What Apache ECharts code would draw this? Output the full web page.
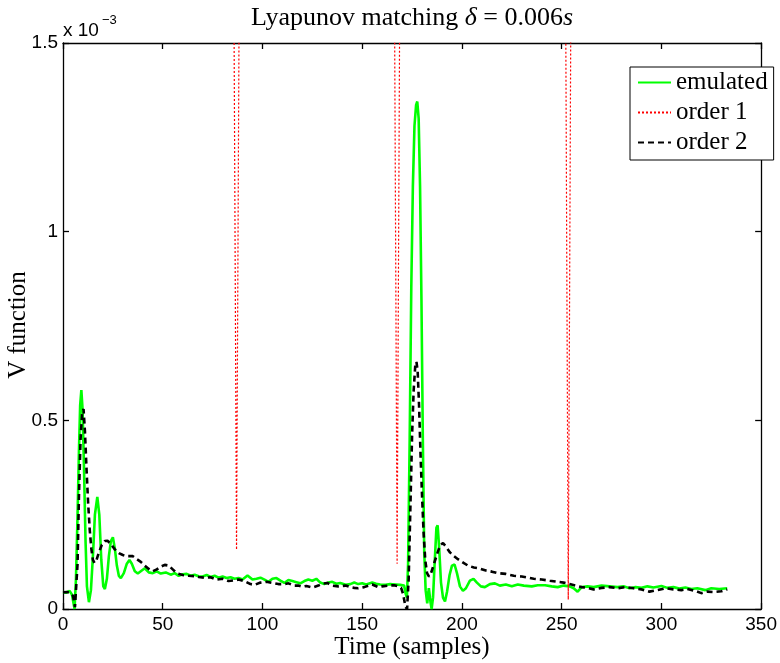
<!DOCTYPE html>
<html><head><meta charset="utf-8">
<script src="https://cdn.jsdelivr.net/npm/echarts@6/dist/echarts.min.js"></script>
<style>html,body{margin:0;padding:0;background:#fff;} #c{width:780px;height:663px;}</style>
</head><body><div id="c"></div>
<script>
// x ticks (samples) and y ticks (in units of 1e-3)
const xTickValues = [0, 50, 100, 150, 200, 250, 300, 350];
const yTickValues = [0, 0.5, 1, 1.5];
const seriesNames = ['emulated', 'order 1', 'order 2'];

// V function values, units of 1e-3
const emulated = [[0,0.045],[1.5,0.043],[3.3,0.048],[4.5,0.038],[5.8,0.0],[6.5,0.08],[7.3,0.25],[8,0.42],[8.6,0.54],[9.2,0.58],[9.8,0.53],[10.5,0.38],[11.3,0.18],[12,0.06],[13,0.018],[14,0.05],[15,0.14],[16,0.25],[17.2,0.297],[18.2,0.25],[19.2,0.13],[20.2,0.06],[21,0.053],[22,0.08],[23,0.14],[24,0.18],[25,0.19],[26,0.16],[27,0.115],[28,0.088],[29,0.082],[30.5,0.095],[32,0.12],[33.3,0.13],[34.5,0.12],[36,0.1],[37.5,0.094],[39,0.1],[41,0.108],[43,0.097],[45,0.095],[47,0.1],[49,0.094],[51.5,0.097],[54,0.091],[56,0.095],[58,0.088],[60,0.092],[62,0.093],[64,0.088],[66,0.091],[68,0.087],[70,0.086],[72,0.09],[74,0.085],[76,0.088],[78,0.083],[80,0.086],[82,0.082],[84,0.084],[86,0.08],[88,0.082],[90,0.078],[92.5,0.089],[95,0.078],[97,0.08],[99,0.083],[101,0.078],[103,0.072],[105,0.08],[107,0.082],[109,0.075],[111,0.069],[113,0.077],[115,0.074],[117,0.071],[119,0.068],[121,0.074],[123,0.078],[125,0.075],[127,0.08],[129,0.07],[131,0.066],[133,0.07],[135,0.072],[137,0.067],[139,0.069],[141.7,0.064],[144,0.066],[146,0.07],[148,0.066],[150,0.068],[152,0.065],[155,0.07],[157,0.067],[159,0.065],[161.7,0.064],[164,0.066],[166.7,0.065],[169,0.064],[171,0.062],[171.8,0.04],[172.4,0.03],[173,0.12],[173.8,0.45],[174.6,0.85],[175.4,1.12],[176.2,1.28],[177,1.335],[177.6,1.345],[178.3,1.3],[179,1.12],[179.7,0.82],[180.4,0.45],[181.1,0.15],[181.8,0.05],[182.6,0.015],[183.4,0.055],[184.2,0.02],[184.8,0.0],[185.5,0.03],[186.3,0.12],[187.2,0.215],[187.8,0.222],[188.6,0.16],[189.5,0.07],[190.5,0.03],[191.5,0.02],[192.5,0.045],[193.8,0.09],[195,0.115],[196.3,0.118],[197.5,0.095],[199,0.06],[200.5,0.048],[202,0.055],[204,0.075],[205.8,0.08],[207.5,0.07],[209.5,0.06],[211.5,0.058],[214,0.066],[216.5,0.068],[219,0.062],[222,0.065],[225,0.06],[228,0.065],[231,0.062],[235,0.06],[238,0.063],[241.7,0.063],[245,0.06],[248,0.058],[251,0.062],[254,0.06],[256,0.055],[258,0.046],[260,0.058],[263,0.06],[266,0.058],[270,0.062],[274,0.06],[278,0.058],[281,0.06],[284,0.055],[287,0.058],[290,0.056],[293,0.06],[296,0.057],[300,0.061],[303,0.056],[306,0.058],[309,0.054],[312,0.057],[315,0.053],[318,0.055],[322,0.05],[325,0.055],[329,0.053],[333,0.055]];

// order 1: far above the axis range except three narrow dips
const order1 = [[0,5],[85.7,1.6],[87,0.157],[88.3,1.6],[166.2,1.6],[167.5,0.12],[168.8,1.6],[252,1.6],[253.3,0.025],[254.6,1.6],[334,5]];

const order2 = [[0,0.044],[2,0.045],[3.5,0.043],[5,0.035],[6,0.005],[6.5,0.0],[7.3,0.12],[8,0.3],[8.8,0.45],[9.6,0.52],[10.3,0.53],[11,0.47],[11.8,0.37],[12.6,0.28],[13.4,0.21],[14.2,0.16],[15,0.13],[15.8,0.122],[16.8,0.13],[18,0.15],[19.5,0.17],[21,0.18],[22.3,0.181],[24,0.172],[26,0.158],[28,0.148],[30,0.143],[32,0.14],[35,0.14],[37,0.132],[39,0.125],[41,0.115],[43,0.106],[45,0.1],[47,0.105],[49,0.112],[51,0.117],[53,0.115],[55,0.105],[57,0.095],[60,0.09],[63,0.088],[66,0.087],[68,0.085],[71,0.083],[74,0.084],[77,0.078],[80,0.08],[83,0.074],[86,0.076],[88,0.078],[91,0.074],[94,0.066],[96,0.064],[99,0.07],[102,0.072],[105,0.069],[108,0.066],[111,0.066],[113,0.068],[116,0.062],[118,0.062],[120,0.059],[122,0.061],[125,0.057],[128,0.062],[130,0.067],[132.5,0.069],[135,0.062],[138,0.06],[141.7,0.062],[144,0.058],[146,0.056],[148,0.055],[151,0.058],[155,0.065],[158,0.058],[160,0.06],[163,0.062],[166,0.063],[168,0.06],[169.5,0.056],[170.5,0.04],[171.7,0.006],[172.5,0.0],[173.3,0.08],[174.2,0.28],[175,0.46],[175.8,0.58],[176.6,0.645],[177.2,0.655],[177.8,0.63],[178.5,0.54],[179.3,0.4],[180,0.3],[180.8,0.2],[181.6,0.13],[182.5,0.095],[183.5,0.086],[184.5,0.095],[186,0.12],[187.5,0.145],[189,0.168],[190.5,0.175],[192,0.165],[194,0.15],[196,0.14],[198,0.132],[200,0.125],[203,0.115],[206,0.11],[209,0.107],[212,0.102],[215,0.099],[218,0.095],[222,0.093],[226,0.088],[230,0.086],[233,0.083],[236,0.08],[240,0.078],[244,0.075],[248,0.072],[251,0.07],[254,0.066],[257,0.062],[260,0.058],[263,0.056],[266,0.052],[270,0.056],[274,0.058],[278,0.055],[282,0.058],[286,0.055],[290,0.052],[294,0.046],[298,0.05],[302,0.055],[306,0.052],[310,0.05],[313,0.053],[317,0.048],[320,0.042],[323,0.046],[326,0.045],[330,0.047],[333,0.052]];

const chart = echarts.init(document.getElementById('c'), null, {renderer: 'canvas'});
const xMin = xTickValues[0], xMax = xTickValues[xTickValues.length - 1], xInt = xTickValues[1] - xTickValues[0];
const yMin = yTickValues[0], yMax = yTickValues[yTickValues.length - 1], yInt = yTickValues[1] - yTickValues[0];
const serif = 'Liberation Serif', sans = 'Liberation Sans';

const axLine = () => ({show: true, onZero: false, lineStyle: {color: '#000', width: 1.3}});
const axTick = () => ({show: true, inside: true, length: 6, lineStyle: {color: '#000', width: 1.3}});

chart.setOption({
  animation: false,
  backgroundColor: '#fff',
  grid: {left: 63, top: 43, width: 699, height: 566, containLabel: false},
  xAxis: [
    {type: 'value', min: xMin, max: xMax, interval: xInt, position: 'bottom',
     axisLine: axLine(), axisTick: axTick(), splitLine: {show: false},
     axisLabel: {color: '#000', fontFamily: sans, fontSize: 19, margin: 6}},
    {type: 'value', min: xMin, max: xMax, interval: xInt, position: 'top',
     axisLine: axLine(), axisTick: axTick(), splitLine: {show: false}, axisLabel: {show: false}}
  ],
  yAxis: [
    {type: 'value', min: yMin, max: yMax, interval: yInt, position: 'left',
     axisLine: axLine(), axisTick: axTick(), splitLine: {show: false},
     axisLabel: {color: '#000', fontFamily: sans, fontSize: 19, margin: 5}},
    {type: 'value', min: yMin, max: yMax, interval: yInt, position: 'right',
     axisLine: axLine(), axisTick: axTick(), splitLine: {show: false}, axisLabel: {show: false}}
  ],
  legend: {
    data: seriesNames, orient: 'vertical', left: 630, top: 67,
    itemWidth: 33, itemHeight: 14, itemGap: 5, padding: [3, 6, 5, 7],
    borderColor: '#000', borderWidth: 1, borderRadius: 0, backgroundColor: '#fff',
    selectedMode: false,
    itemStyle: {color: 'rgba(0,0,0,0)', borderWidth: 0, borderColor: 'rgba(0,0,0,0)', opacity: 0},
    textStyle: {fontFamily: serif, fontSize: 25, lineHeight: 24, color: '#000'}
  },
  series: [
    {name: seriesNames[0], type: 'line', data: emulated, symbol: 'none', clip: true,
     lineStyle: {color: '#00ff00', width: 2.6}, itemStyle: {color: '#00ff00'}},
    {name: seriesNames[1], type: 'line', data: order1, symbol: 'none', clip: true,
     lineStyle: {color: '#ff0000', width: 1.2, type: [2, 2]}, itemStyle: {color: '#ff0000'}},
    {name: seriesNames[2], type: 'line', data: order2, symbol: 'none', clip: true,
     lineStyle: {color: '#000', width: 2.6, type: [6, 4]}, itemStyle: {color: '#000'}}
  ],
  graphic: [
    {type: 'text', x: 412, y: 18, style: {
      text: 'Lyapunov matching {i|δ} = 0.006{i|s}', textAlign: 'center', textVerticalAlign: 'middle',
      fontFamily: serif, fontSize: 26, fill: '#000',
      rich: {i: {fontFamily: serif, fontSize: 26, fontStyle: 'italic', fill: '#000'}}}},
    {type: 'text', x: 412, y: 647, style: {
      text: 'Time (samples)', textAlign: 'center', textVerticalAlign: 'middle',
      fontFamily: serif, fontSize: 25, fill: '#000'}},
    {type: 'text', x: 18, y: 325, rotation: Math.PI / 2, style: {
      text: 'V function', textAlign: 'center', textVerticalAlign: 'middle',
      fontFamily: serif, fontSize: 25, fill: '#000'}},
    {type: 'text', x: 63, y: 31, style: {
      text: 'x 10', textAlign: 'left', textVerticalAlign: 'middle',
      fontFamily: sans, fontSize: 19, fill: '#000'}},
    {type: 'text', x: 102, y: 20, style: {
      text: '\u22123', textAlign: 'left', textVerticalAlign: 'middle',
      fontFamily: sans, fontSize: 13, fill: '#000'}}
  ]
});
</script></body></html>
